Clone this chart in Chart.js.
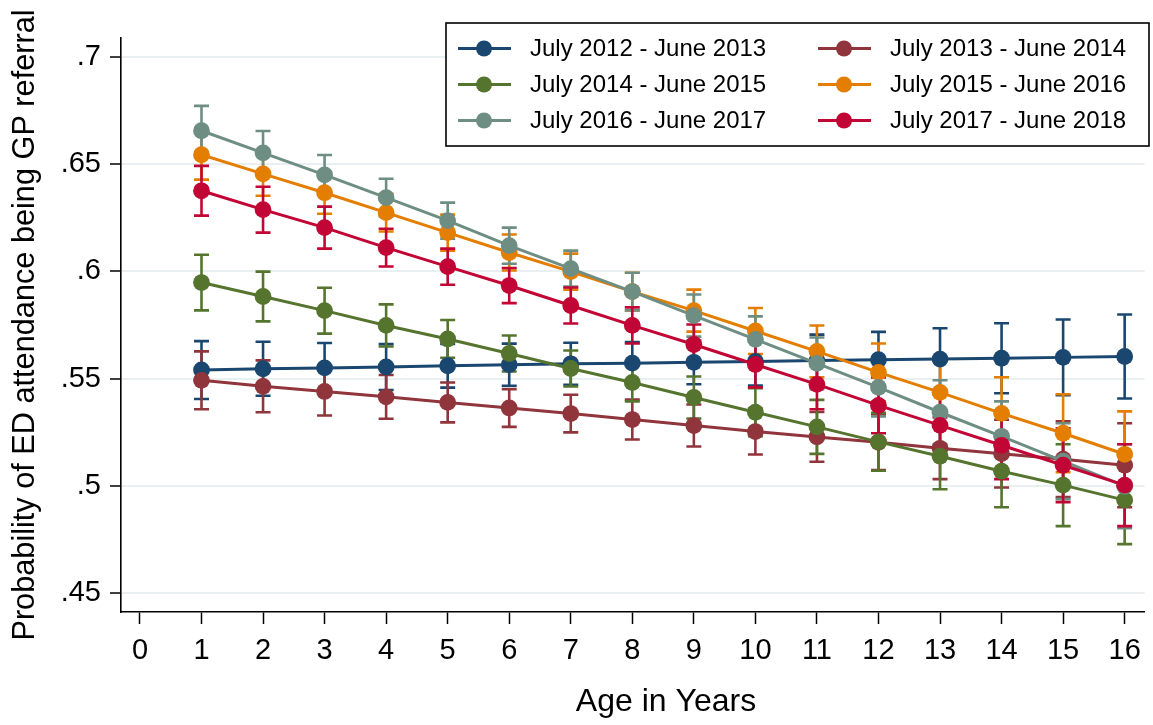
<!DOCTYPE html>
<html>
<head>
<meta charset="utf-8">
<title>ED attendance being GP referral by age</title>
<script src="https://cdn.jsdelivr.net/npm/chart.js@4.4.1/dist/chart.umd.min.js"></script>
<style>
  html, body { margin: 0; padding: 0; background: #ffffff; }
  #wrap { width: 1153px; height: 725px; }
</style>
</head>
<body>
<div id="wrap"><canvas id="chart" width="1153" height="725"></canvas></div>
<script>
// Age categories (x axis)
const ages = [1, 2, 3, 4, 5, 6, 7, 8, 9, 10, 11, 12, 13, 14, 15, 16];

// Predicted probabilities per financial year
const p2012 = [0.5540, 0.5546, 0.5550, 0.5554, 0.5560, 0.5565, 0.5569, 0.5572, 0.5576, 0.5580, 0.5584, 0.5588, 0.5591, 0.5595, 0.5599, 0.5603];
const p2013 = [0.5492, 0.5464, 0.5440, 0.5415, 0.5389, 0.5363, 0.5337, 0.5309, 0.5281, 0.5253, 0.5228, 0.5203, 0.5175, 0.5150, 0.5124, 0.5096];
const p2014 = [0.5948, 0.5883, 0.5817, 0.5748, 0.5685, 0.5617, 0.5547, 0.5482, 0.5412, 0.5343, 0.5275, 0.5205, 0.5138, 0.5068, 0.5003, 0.4933];
const p2015 = [0.6544, 0.6455, 0.6367, 0.6274, 0.6181, 0.6088, 0.5999, 0.5906, 0.5817, 0.5722, 0.5627, 0.5529, 0.5436, 0.5338, 0.5245, 0.5147];
const p2016 = [0.6656, 0.6553, 0.6450, 0.6344, 0.6237, 0.6120, 0.6013, 0.5906, 0.5794, 0.5683, 0.5571, 0.5459, 0.5343, 0.5231, 0.5115, 0.4998];
const p2017 = [0.6376, 0.6288, 0.6204, 0.6111, 0.6022, 0.5934, 0.5841, 0.5748, 0.5659, 0.5566, 0.5473, 0.5375, 0.5282, 0.5189, 0.5096, 0.5003];

// 95% confidence interval half-widths
const ci2012 = [0.0135, 0.0126, 0.0116, 0.0107, 0.0102, 0.0098, 0.0098, 0.0098, 0.0102, 0.0112, 0.0121, 0.0130, 0.0144, 0.0163, 0.0177, 0.0196];
const ci2013 = [0.0135, 0.0121, 0.0112, 0.0102, 0.0093, 0.0088, 0.0088, 0.0093, 0.0098, 0.0107, 0.0116, 0.0130, 0.0144, 0.0158, 0.0177, 0.0196];
const ci2014 = [0.0130, 0.0116, 0.0107, 0.0098, 0.0088, 0.0084, 0.0084, 0.0088, 0.0098, 0.0112, 0.0126, 0.0135, 0.0154, 0.0168, 0.0191, 0.0205];
const ci2015 = [0.0116, 0.0102, 0.0098, 0.0088, 0.0084, 0.0084, 0.0084, 0.0088, 0.0098, 0.0107, 0.0121, 0.0135, 0.0149, 0.0168, 0.0182, 0.0200];
const ci2016 = [0.0116, 0.0102, 0.0093, 0.0088, 0.0084, 0.0084, 0.0084, 0.0088, 0.0098, 0.0107, 0.0121, 0.0135, 0.0149, 0.0163, 0.0177, 0.0196];
const ci2017 = [0.0116, 0.0107, 0.0098, 0.0088, 0.0084, 0.0082, 0.0084, 0.0084, 0.0093, 0.0107, 0.0116, 0.0130, 0.0144, 0.0158, 0.0172, 0.0191];

// Series labels
const seriesNames = [
  'July 2012 - June 2013', 'July 2013 - June 2014',
  'July 2014 - June 2015', 'July 2015 - June 2016',
  'July 2016 - June 2017', 'July 2017 - June 2018'
];

// Tick values and labels
const xTicks = [0, 1, 2, 3, 4, 5, 6, 7, 8, 9, 10, 11, 12, 13, 14, 15, 16];
const yTicks = [0.45, 0.5, 0.55, 0.6, 0.65, 0.7];
const yTickLabels = ['.45', '.5', '.55', '.6', '.65', '.7'];

const xTitle = 'Age in Years';
const yTitle = 'Probability of ED attendance being GP referral';

const seriesValues = [p2012, p2013, p2014, p2015, p2016, p2017];
const seriesCI = [ci2012, ci2013, ci2014, ci2015, ci2016, ci2017];
const seriesColors = ['#1a476f', '#90353b', '#55752f', '#e37e00', '#6e8e84', '#c10534'];

const FONT = '"Liberation Sans", Arial, sans-serif';

const datasets = seriesValues.map((vals, i) => ({
  label: seriesNames[i],
  data: ages.map((a, j) => ({ x: a, y: vals[j] })),
  ci: seriesCI[i],
  borderColor: seriesColors[i],
  backgroundColor: seriesColors[i],
  pointBackgroundColor: seriesColors[i],
  pointBorderColor: seriesColors[i],
  pointBorderWidth: 0,
  pointRadius: 8.4,
  pointHoverRadius: 8.4,
  borderWidth: 3,
  tension: 0,
  fill: false,
  // later periods are painted on top
  order: seriesValues.length - i
}));

// Confidence-interval caps, painted beneath all lines and markers
const errorBars = {
  id: 'errorBars',
  beforeDatasetsDraw(chart) {
    const { ctx, chartArea, scales: { x, y } } = chart;
    ctx.save();
    ctx.beginPath();
    ctx.rect(chartArea.left, chartArea.top, chartArea.right - chartArea.left, chartArea.bottom - chartArea.top);
    ctx.clip();
    ctx.lineWidth = 2.6;
    ctx.lineCap = 'butt';
    chart.data.datasets.forEach((ds) => {
      ctx.strokeStyle = ds.borderColor;
      ds.data.forEach((pt, j) => {
        const px = x.getPixelForValue(pt.x);
        const top = y.getPixelForValue(pt.y + ds.ci[j]);
        const bot = y.getPixelForValue(pt.y - ds.ci[j]);
        const hw = 7.5;
        ctx.beginPath();
        ctx.moveTo(px, top); ctx.lineTo(px, bot);
        ctx.moveTo(px - hw, top); ctx.lineTo(px + hw, top);
        ctx.moveTo(px - hw, bot); ctx.lineTo(px + hw, bot);
        ctx.stroke();
      });
    });
    ctx.restore();
  }
};

// Boxed two-column legend and the x-axis title
const decorations = {
  id: 'decorations',
  afterDraw(chart) {
    const { ctx } = chart;
    ctx.save();
    // legend frame
    const box = { left: 446, top: 23, right: 1149, bottom: 146 };
    ctx.fillStyle = '#ffffff';
    ctx.fillRect(box.left, box.top, box.right - box.left, box.bottom - box.top);
    ctx.strokeStyle = '#000000';
    ctx.lineWidth = 1.6;
    ctx.strokeRect(box.left, box.top, box.right - box.left, box.bottom - box.top);

    const colX = [458, 818];
    const rowY = [48.5, 84.5, 120.5];
    ctx.font = '24px ' + FONT;
    ctx.textAlign = 'left';
    ctx.textBaseline = 'middle';
    chart.data.datasets.forEach((ds, i) => {
      const cx = colX[i % 2];
      const cy = rowY[Math.floor(i / 2)];
      ctx.strokeStyle = ds.borderColor;
      ctx.lineWidth = 3;
      ctx.beginPath();
      ctx.moveTo(cx, cy); ctx.lineTo(cx + 53, cy);
      ctx.stroke();
      ctx.fillStyle = ds.borderColor;
      ctx.beginPath();
      ctx.arc(cx + 26, cy, 8, 0, Math.PI * 2);
      ctx.fill();
      ctx.fillStyle = '#000000';
      ctx.fillText(ds.label, cx + 72, cy + 1);
    });

    // x-axis title
    ctx.font = '32px ' + FONT;
    ctx.textAlign = 'center';
    ctx.textBaseline = 'middle';
    ctx.fillStyle = '#000000';
    ctx.fillText(xTitle, 666, 702);
    ctx.restore();
  }
};

new Chart(document.getElementById('chart'), {
  type: 'line',
  data: { datasets },
  plugins: [errorBars, decorations],
  options: {
    responsive: false,
    animation: false,
    devicePixelRatio: 1,
    layout: { padding: { top: 38, right: 6, left: 0, bottom: 0 } },
    plugins: {
      legend: { display: false },
      tooltip: { enabled: false }
    },
    scales: {
      x: {
        type: 'linear',
        min: -0.308,
        max: 16.324,
        afterBuildTicks: (scale) => { scale.ticks = xTicks.map(v => ({ value: v })); },
        afterFit: (scale) => { scale.height = 113; },
        grid: {
          drawOnChartArea: false,
          drawTicks: true,
          tickLength: 12,
          tickColor: '#000000',
          tickWidth: 1.5
        },
        border: { display: true, color: '#000000', width: 1.6 },
        ticks: {
          autoSkip: false,
          maxRotation: 0,
          padding: 10,
          color: '#000000',
          font: { family: FONT, size: 29 },
          callback: (v) => String(v)
        }
      },
      y: {
        type: 'linear',
        min: 0.44114,
        max: 0.70886,
        afterBuildTicks: (scale) => { scale.ticks = yTicks.map(v => ({ value: v })); },
        afterFit: (scale) => { scale.width = 121; },
        grid: {
          drawOnChartArea: true,
          color: '#e9f0f2',
          lineWidth: 2,
          drawTicks: true,
          tickLength: 11,
          tickColor: '#000000',
          tickWidth: 1.5
        },
        border: { display: true, color: '#000000', width: 1.6 },
        ticks: {
          autoSkip: false,
          padding: 9,
          color: '#000000',
          font: { family: FONT, size: 29 },
          callback: (v) => {
            const k = yTicks.findIndex(t => Math.abs(t - v) < 1e-9);
            return k >= 0 ? yTickLabels[k] : '';
          }
        },
        title: {
          display: true,
          text: yTitle,
          color: '#000000',
          font: { family: FONT, size: 30.7 },
          padding: { top: 7, bottom: 0 }
        }
      }
    }
  }
});
</script>
</body>
</html>
